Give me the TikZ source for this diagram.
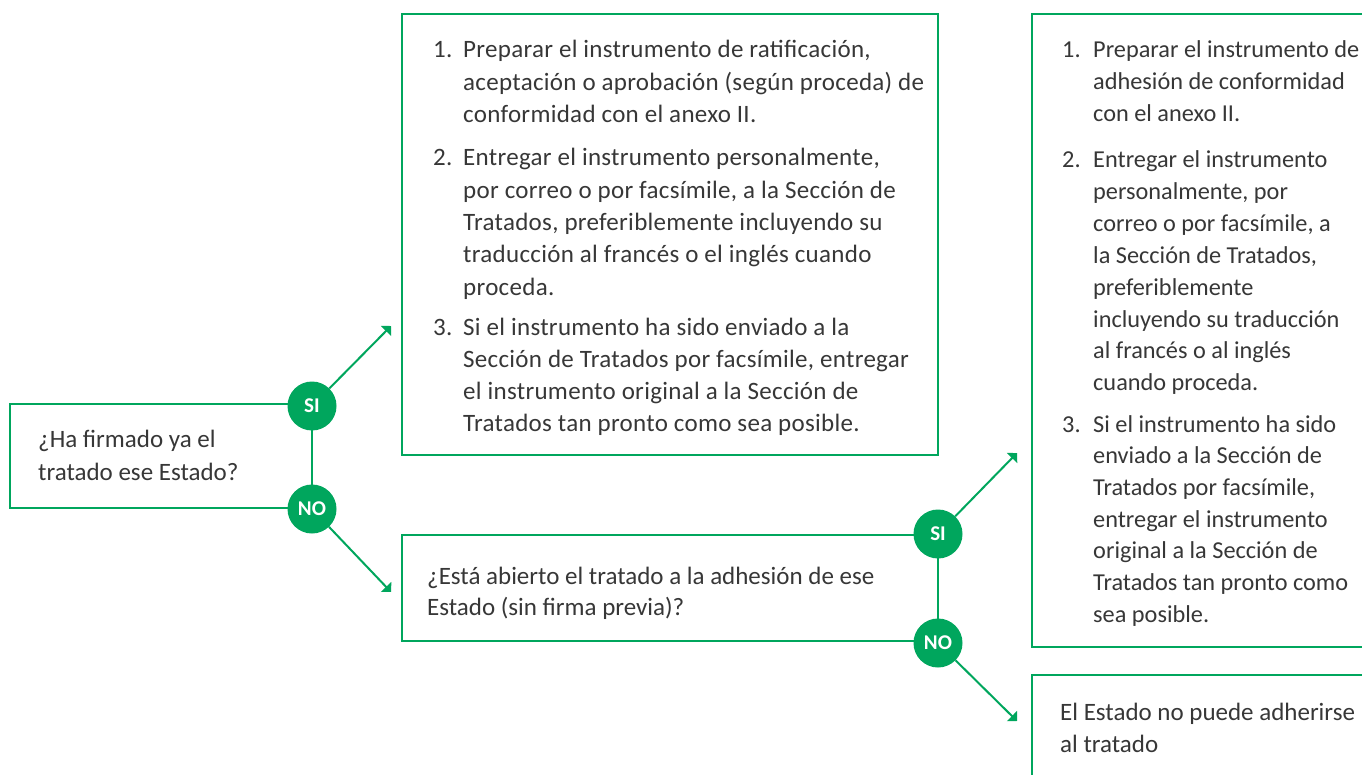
\documentclass[tikz,border=0pt]{standalone}
\usepackage{fontspec}
\setmainfont{Carlito}
\newfontfamily\midfam[LetterSpace=1.2]{Carlito}
\usetikzlibrary{arrows.meta}
\definecolor{grn}{RGB}{0,166,93}
\definecolor{txtc}{RGB}{55,55,55}
\newcommand{\txtfont}{\fontsize{25}{32}\selectfont}
\newcommand{\midfont}{\midfam\fontsize{25}{32}\selectfont}
\newcommand{\rgtfont}{\fontsize{24.3}{32}\selectfont}
\tikzset{
  box/.style={draw=grn, line width=2pt},
  ln/.style={anchor=base west, inner sep=0pt, font=\txtfont, text=txtc},
  mln/.style={ln, font=\midfont},
  rln/.style={ln, font=\rgtfont},
  circ/.style={circle, fill=grn, text=white, minimum size=49pt, inner sep=0pt, font=\fontsize{21}{21}\selectfont\bfseries},
  arr/.style={draw=grn, line width=2pt, -{Triangle[angle=90:10pt]}},
}
\begin{document}
\begin{tikzpicture}[x=1pt,y=-1pt]
\useasboundingbox (0,0) rectangle (1362,775);
\clip (0,0) rectangle (1362,775);
\fill[white] (0,0) rectangle (1362,775);
% boxes
\draw[box] (10,404) rectangle (312,508);
\draw[box] (402,14) rectangle (938,455);
\draw[box] (402,535) rectangle (938,641);
\draw[box] (1032,14) rectangle (1390,647);
\draw[box] (1032,675) rectangle (1390,800);
% circles
\node[circ] (si1) at (312,406) {SI};
\node[circ] (no1) at (312,509) {NO};
\node[circ] (si2) at (938,534) {SI};
\node[circ] (no2) at (938,643) {NO};
\coordinate (t1) at (391,326);
\coordinate (t2) at (391,592);
\coordinate (t3) at (1017,453);
\coordinate (t4) at (1017,721);
\draw[arr] (si1) -- (t1);
\draw[arr] (no1) -- (t2);
\draw[arr] (si2) -- (t3);
\draw[arr] (no2) -- (t4);
% left box text
\node[ln] (q1a) at (38,447) {¿Ha firmado ya el};
\node[ln] (q1b) at (38,480) {tratado ese Estado?};
% bottom middle
\node[ln] (q2a) at (427,584) {¿Está abierto el tratado a la adhesión de ese};
\node[ln] (q2b) at (427,615) {Estado (sin firma previa)?};
% right bottom
\node[ln] (ra) at (1060,720) {El Estado no puede adherirse};
\node[ln] (rb) at (1060,752) {al tratado};
% middle top list
\node[mln] (m1) at (433,58) {1.};
\node[mln] (m2) at (433,166) {2.};
\node[mln] (m3) at (433,336) {3.};
\foreach \t [count=\i] in {{Preparar el instrumento de ratificación,},{aceptación o aprobación (según proceda) de},{conformidad con el anexo II.}}
  \node[mln] (ma\i) at (463,{58+(\i-1)*32.5}) {\t};
\foreach \t [count=\i] in {{Entregar el instrumento personalmente,},{por correo o por facsímile, a la Sección de},{Tratados, preferiblemente incluyendo su},{traducción al francés o el inglés cuando},{proceda.}}
  \node[mln] (mb\i) at (463,{166+(\i-1)*32.3}) {\t};
\foreach \t [count=\i] in {{Si el instrumento ha sido enviado a la},{Sección de Tratados por facsímile, entregar},{el instrumento original a la Sección de},{Tratados tan pronto como sea posible.}}
  \node[mln] (mc\i) at (463,{336+(\i-1)*31.8}) {\t};
% right top list
\node[rln] (r1) at (1062,58) {1.};
\node[rln] (r2) at (1062,168) {2.};
\node[rln] (r3) at (1062,432) {3.};
\foreach \t [count=\i] in {{Preparar el instrumento de},{adhesión de conformidad},{con el anexo II.}}
  \node[rln] (ra\i) at (1093,{58+(\i-1)*32}) {\t};
\foreach \t [count=\i] in {{Entregar el instrumento},{personalmente, por},{correo o por facsímile, a},{la Sección de Tratados,},{preferiblemente},{incluyendo su traducción},{al francés o al inglés},{cuando proceda.}}
  \node[rln] (rb\i) at (1093,{168+(\i-1)*31.8}) {\t};
\foreach \t [count=\i] in {{Si el instrumento ha sido},{enviado a la Sección de},{Tratados por facsímile,},{entregar el instrumento},{original a la Sección de},{Tratados tan pronto como},{sea posible.}}
  \node[rln] (rc\i) at (1093,{432+(\i-1)*31.7}) {\t};
\end{tikzpicture}
\end{document}
